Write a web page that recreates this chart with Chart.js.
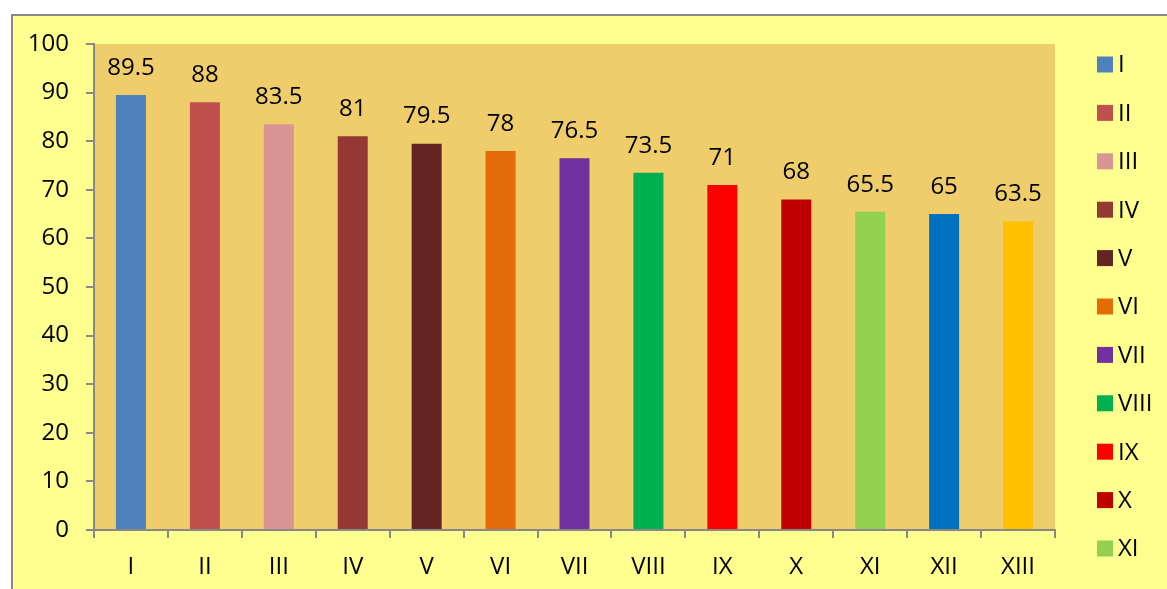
<!DOCTYPE html>
<html>
<head>
<meta charset="utf-8">
<script src="https://cdn.jsdelivr.net/npm/chart.js@4.4.1/dist/chart.umd.min.js"></script>
<style>
html,body{margin:0;padding:0;background:#ffffff;}
#wrap{position:absolute;left:0;top:0;width:1167px;height:589px;}
</style>
</head>
<body>
<div id="wrap"><canvas id="c" width="1167" height="589"></canvas></div>
<script>
const categories = ["I","II","III","IV","V","VI","VII","VIII","IX","X","XI","XII","XIII"];
const values = [89.5, 88, 83.5, 81, 79.5, 78, 76.5, 73.5, 71, 68, 65.5, 65, 63.5];
const valueLabels = ["89.5","88","83.5","81","79.5","78","76.5","73.5","71","68","65.5","65","63.5"];
const barColors = ["#4F81BD","#C0504D","#D99594","#953735","#632423","#E36C09","#7030A0","#00B050","#FF0000","#C00000","#92D050","#0070C0","#FFC000"];
const yTicks = [0,10,20,30,40,50,60,70,80,90,100];

const FONT = "'Open Sans', 'Liberation Sans', sans-serif";
const FS = 24;

const bgPlugin = {
  id: 'bg',
  beforeDraw(chart) {
    const ctx = chart.ctx, a = chart.chartArea;
    ctx.save();
    ctx.fillStyle = '#ffffff';
    ctx.fillRect(0, 0, chart.width, chart.height);
    ctx.fillStyle = '#FFFF8F';
    ctx.fillRect(11, 14, chart.width - 11, chart.height - 14);
    ctx.strokeStyle = '#888888';
    ctx.lineWidth = 2;
    ctx.beginPath();
    ctx.moveTo(12, chart.height + 2);
    ctx.lineTo(12, 15);
    ctx.lineTo(chart.width + 2, 15);
    ctx.stroke();
    ctx.fillStyle = '#EFCD6B';
    ctx.fillRect(a.left, a.top, a.right - a.left, a.bottom - a.top);
    ctx.restore();
  }
};

const labelPlugin = {
  id: 'vlabels',
  afterDatasetsDraw(chart) {
    const ctx = chart.ctx;
    const meta = chart.getDatasetMeta(0);
    ctx.save();
    ctx.font = FS + 'px ' + FONT;
    ctx.fillStyle = '#000000';
    ctx.textAlign = 'center';
    ctx.textBaseline = 'middle';
    meta.data.forEach((bar, i) => {
      ctx.fillText(valueLabels[i], bar.x, bar.y - 27);
    });
    ctx.restore();
  }
};

const legendPlugin = {
  id: 'sideLegend',
  afterDraw(chart) {
    const ctx = chart.ctx;
    ctx.save();
    ctx.font = FS + 'px ' + FONT;
    ctx.textAlign = 'left';
    ctx.textBaseline = 'middle';
    categories.forEach((c, i) => {
      const cy = 64.5 + i * 48.4;
      if (cy + 8 > chart.height) return; // item falls outside the visible frame
      ctx.fillStyle = barColors[i];
      ctx.fillRect(1097, cy - 8, 16, 16);
      ctx.fillStyle = '#000000';
      ctx.fillText(c, 1118, cy + 1);
    });
    ctx.restore();
  }
};

new Chart(document.getElementById('c'), {
  type: 'bar',
  data: {
    labels: categories,
    datasets: [{
      data: values,
      backgroundColor: barColors,
      borderWidth: 0,
      barPercentage: 0.406,
      categoryPercentage: 1.0
    }]
  },
  options: {
    responsive: false,
    animation: false,
    devicePixelRatio: 1,
    layout: { padding: { left: 0, top: 44, right: 112, bottom: 0 } },
    plugins: { legend: { display: false }, tooltip: { enabled: false } },
    scales: {
      x: {
        grid: { display: true, drawOnChartArea: false, drawTicks: true, tickLength: 8, color: '#888888', lineWidth: 2, offset: true },
        border: { display: true, color: '#888888', width: 2 },
        ticks: { color: '#000000', font: { family: FONT, size: FS }, padding: 15, maxRotation: 0, autoSkip: false },
        afterFit(s) { s.height = 59; }
      },
      y: {
        min: 0, max: 100,
        afterBuildTicks(s) { s.ticks = yTicks.map(v => ({ value: v })); },
        grid: { display: true, drawOnChartArea: false, drawTicks: true, tickLength: 8, color: '#888888', lineWidth: 2 },
        border: { display: true, color: '#888888', width: 2 },
        ticks: { color: '#000000', font: { family: FONT, size: FS }, padding: 17 },
        afterFit(s) { s.width = 94; }
      }
    }
  },
  plugins: [bgPlugin, labelPlugin, legendPlugin]
});
</script>
</body>
</html>
